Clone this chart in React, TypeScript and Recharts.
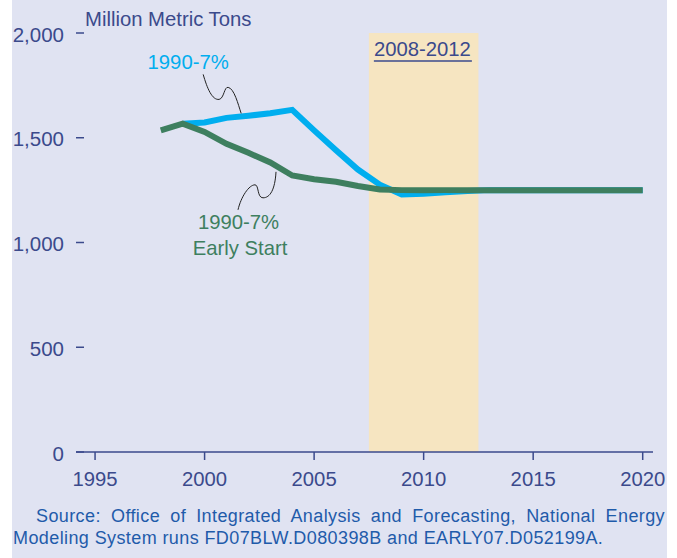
import React from "react";
import {
  LineChart,
  Line,
  XAxis,
  YAxis,
  ReferenceArea,
  ReferenceDot,
} from "recharts";

const years = [
  1998, 1999, 2000, 2001, 2002, 2003, 2004, 2005, 2006, 2007, 2008, 2009,
  2010, 2011, 2012, 2013, 2014, 2015, 2016, 2017, 2018, 2019, 2020,
];
const earlyStart = [
  1535, 1567, 1528, 1471, 1428, 1382, 1320, 1302, 1290, 1270, 1253, 1250,
  1249, 1250, 1250, 1250, 1250, 1250, 1250, 1250, 1250, 1250, 1250,
];
const base1990minus7 = [
  null, 1567, 1573, 1595, 1605, 1617, 1633, 1535, 1440, 1348, 1276, 1229,
  1233, 1240, 1246, 1250, 1250, 1250, 1250, 1250, 1250, 1250, 1250,
];
const xTicks = [1995, 2000, 2005, 2010, 2015, 2020];
const yTicks = [0, 500, 1000, 1500, 2000];
const unitLabel = "Million Metric Tons";
const periodLabel = "2008-2012";
const periodStart = 2007.5;
const periodEnd = 2012.5;
const cyanLabel = "1990-7%";
const greenLabel1 = "1990-7%";
const greenLabel2 = "Early Start";
const sourceLine1 =
  "Source: Office of Integrated Analysis and Forecasting, National Energy";
const sourceLine2 =
  "Modeling System runs FD07BLW.D080398B and EARLY07.D052199A.";

const data = years.map((year, i) => ({
  year,
  early: earlyStart[i],
  base: base1990minus7[i],
}));

const FONT = '"Liberation Sans", Arial, sans-serif';
const AXIS = "#3B4A8C";
const CYAN = "#00AEEF";
const GREEN = "#3E7F5F";
const BG = "#E0E3F2";
const BAND = "#F6E5C1";
const SRC = "#1F5BAA";

const YTick = (props: any) => {
  const { x, y, payload } = props;
  return (
    <g>
      <line x1={x} x2={x + 8} y1={y} y2={y} stroke={AXIS} strokeWidth={1.5} />
      <text
        x={x - 12}
        y={y}
        dy="0.42em"
        textAnchor="end"
        fill={AXIS}
        fontSize={20.5}
        fontFamily={FONT}
      >
        {Number(payload.value).toLocaleString("en-US")}
      </text>
    </g>
  );
};

const BandLabel = (props: any) => {
  const vb = props.viewBox || {};
  const x = vb.x + 5;
  const y = vb.y;
  return (
    <g>
      <text x={x} y={y + 23} fill={AXIS} fontSize={20.3} fontFamily={FONT}>
        {periodLabel}
      </text>
      <line x1={x} x2={x + 98} y1={y + 28} y2={y + 28} stroke={AXIS} strokeWidth={1.5} />
    </g>
  );
};

const CyanCallout = (props: any) => {
  const { cx, cy } = props;
  return (
    <g>
      <path
        d={`M ${cx - 38} ${cy - 42} C ${cx - 34} ${cy - 28}, ${cx - 29} ${cy - 16}, ${cx - 22} ${cy - 17} C ${cx - 17} ${cy - 18}, ${cx - 17} ${cy - 30}, ${cx - 13} ${cy - 29} C ${cx - 7} ${cy - 28}, ${cx - 3} ${cy - 12}, ${cx} ${cy - 3}`}
        fill="none"
        stroke="#222"
        strokeWidth={1}
      />
      <text
        x={cx - 53}
        y={cy - 55}
        dy="0.36em"
        textAnchor="middle"
        fill={CYAN}
        fontSize={20.3}
        fontFamily={FONT}
      >
        {cyanLabel}
      </text>
    </g>
  );
};

const GreenCallout = (props: any) => {
  const { cx, cy } = props;
  return (
    <g>
      <path
        d={`M ${cx} ${cy + 6} C ${cx - 1} ${cy + 24}, ${cx - 6} ${cy + 32}, ${cx - 13} ${cy + 32} C ${cx - 19} ${cy + 32}, ${cx - 17} ${cy + 19}, ${cx - 21} ${cy + 19} C ${cx - 27} ${cy + 19}, ${cx - 35} ${cy + 31}, ${cx - 38} ${cy + 44}`}
        fill="none"
        stroke="#222"
        strokeWidth={1}
      />
      <text
        x={cx - 37.5}
        y={cy + 56}
        dy="0.36em"
        textAnchor="middle"
        fill={GREEN}
        fontSize={20.3}
        fontFamily={FONT}
      >
        {greenLabel1}
      </text>
      <text
        x={cx - 36}
        y={cy + 82}
        dy="0.36em"
        textAnchor="middle"
        fill={GREEN}
        fontSize={20.3}
        fontFamily={FONT}
      >
        {greenLabel2}
      </text>
    </g>
  );
};

export default function App() {
  return (
    <div
      style={{
        position: "absolute",
        left: 0,
        top: 0,
        width: 677,
        height: 558,
        background: "#fff",
        overflow: "hidden",
        fontFamily: FONT,
      }}
    >
      <div
        style={{
          position: "absolute",
          left: 12,
          top: 0,
          width: 655,
          height: 558,
          background: BG,
        }}
      />
      <div style={{ position: "absolute", left: 0, top: 0 }}>
        <LineChart
          width={677}
          height={558}
          data={data}
          margin={{ top: 33, right: 24, bottom: 76, left: 0 }}
        >
          <ReferenceArea
            x1={periodStart}
            x2={periodEnd}
            y1={0}
            y2={2000}
            fill={BAND}
            fillOpacity={1}
            stroke="none"
            label={<BandLabel />}
          />
          <XAxis
            type="number"
            dataKey="year"
            domain={[1994.13, 2020.47]}
            ticks={xTicks}
            interval={0}
            allowDataOverflow
            height={30}
            tickSize={8}
            tickMargin={12}
            stroke={AXIS}
            strokeWidth={1.5}
            tick={{ fill: AXIS, fontSize: 20.3, fontFamily: FONT }}
          />
          <YAxis
            type="number"
            domain={[0, 2000]}
            ticks={yTicks}
            interval={0}
            width={76}
            axisLine={false}
            tickLine={false}
            tickSize={0}
            tickMargin={0}
            tick={<YTick />}
          />
          <Line
            type="linear"
            dataKey="base"
            stroke={CYAN}
            strokeWidth={6}
            dot={false}
            activeDot={false}
            isAnimationActive={false}
            connectNulls={false}
          />
          <Line
            type="linear"
            dataKey="early"
            stroke={GREEN}
            strokeWidth={6}
            dot={false}
            activeDot={false}
            isAnimationActive={false}
          />
          <ReferenceDot
            x={2001.67}
            y={1602}
            r={0}
            ifOverflow="visible"
            shape={<CyanCallout />}
          />
          <ReferenceDot
            x={2003.26}
            y={1366}
            r={0}
            ifOverflow="visible"
            shape={<GreenCallout />}
          />
        </LineChart>
      </div>
      <svg
        width={677}
        height={40}
        style={{ position: "absolute", left: 0, top: 0, pointerEvents: "none" }}
      >
        <text x={85} y={26} fill={AXIS} fontSize={20.3} fontFamily={FONT}>
          {unitLabel}
        </text>
      </svg>
      <div
        style={{
          position: "absolute",
          left: 36,
          top: 506,
          width: 629,
          fontSize: 18,
          letterSpacing: "0.4px",
          lineHeight: "21.7px",
          color: SRC,
          textAlign: "justify",
          textAlignLast: "justify" as any,
          fontFamily: FONT,
        }}
      >
        {sourceLine1}
      </div>
      <div
        style={{
          position: "absolute",
          left: 13,
          top: 528,
          width: 660,
          fontSize: 18,
          letterSpacing: "0.4px",
          lineHeight: "21.7px",
          color: SRC,
          whiteSpace: "nowrap",
          fontFamily: FONT,
        }}
      >
        {sourceLine2}
      </div>
    </div>
  );
}
